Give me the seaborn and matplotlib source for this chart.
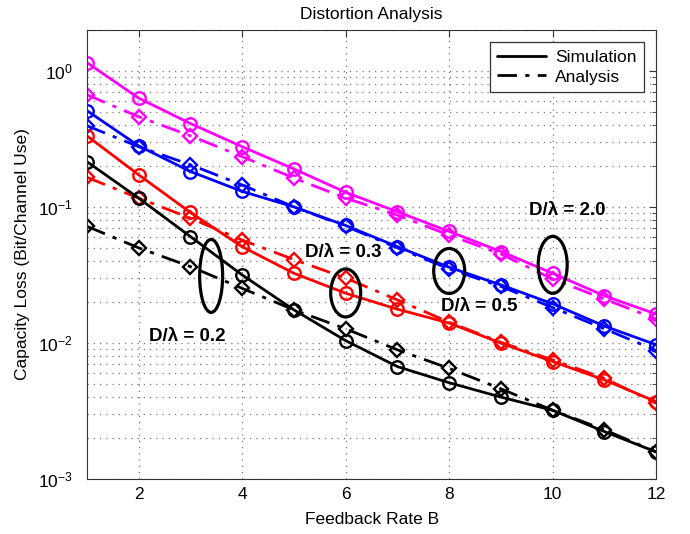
import numpy as np
import pandas as pd
import matplotlib
matplotlib.use('Agg')
import matplotlib.pyplot as plt
import seaborn as sns
from matplotlib.patches import Ellipse
from matplotlib.transforms import ScaledTranslation
from matplotlib.lines import Line2D
from matplotlib.ticker import LogLocator, NullFormatter

sns.set_style('white')
plt.rcParams.update({
    'font.family': ['Liberation Sans', 'DejaVu Sans'],
    'mathtext.default': 'regular',
    'xtick.direction': 'in',
    'ytick.direction': 'in',
    'xtick.top': True,
    'ytick.right': True,
    'axes.edgecolor': '#333333',
    'text.color': 'black',
    'axes.labelcolor': 'black',
    'xtick.color': 'black',
    'ytick.color': 'black',
})

# data
feedback_rate = [1, 2, 3, 4, 5, 6, 7, 8, 9, 10, 11, 12]
sim_20 = [1.15, 0.63, 0.41, 0.277, 0.19, 0.128, 0.092, 0.066, 0.047, 0.0325, 0.0222, 0.0163]
ana_20 = [0.667, 0.46, 0.333, 0.234, 0.163, 0.116, 0.087, 0.062, 0.045, 0.0295, 0.021, 0.015]
sim_05 = [0.51, 0.281, 0.182, 0.13, 0.1, 0.073, 0.051, 0.036, 0.0267, 0.0194, 0.0133, 0.0097]
ana_05 = [0.395, 0.277, 0.204, 0.145, 0.1, 0.072, 0.05, 0.035, 0.026, 0.0182, 0.0127, 0.0088]
sim_03 = [0.333, 0.172, 0.091, 0.051, 0.0325, 0.0232, 0.0177, 0.014, 0.00996, 0.0073, 0.00535, 0.0037]
ana_03 = [0.165, 0.116, 0.0826, 0.057, 0.041, 0.030, 0.0207, 0.0142, 0.0101, 0.0075, 0.0055, 0.0036]
sim_02 = [0.215, 0.116, 0.0605, 0.0316, 0.0175, 0.0104, 0.0067, 0.0051, 0.004, 0.0032, 0.00223, 0.00158]
ana_02 = [0.072, 0.05, 0.0364, 0.0252, 0.0175, 0.0127, 0.0089, 0.0065, 0.0046, 0.0032, 0.0023, 0.00158]

ratios = ['2.0', '0.5', '0.3', '0.2']
colors = {'2.0': '#FF00FF', '0.5': '#0000FF', '0.3': '#FF0000', '0.2': '#000000'}
series = {
    ('2.0', 'Simulation'): sim_20, ('2.0', 'Analysis'): ana_20,
    ('0.5', 'Simulation'): sim_05, ('0.5', 'Analysis'): ana_05,
    ('0.3', 'Simulation'): sim_03, ('0.3', 'Analysis'): ana_03,
    ('0.2', 'Simulation'): sim_02, ('0.2', 'Analysis'): ana_02,
}

rows = []
for (r, kind), vals in series.items():
    for b, v in zip(feedback_rate, vals):
        rows.append({'ratio': r, 'kind': kind, 'B': b, 'loss': v})
df = pd.DataFrame(rows)

fig = plt.figure(figsize=(6.9, 5.34), dpi=100)
ax = fig.add_axes([0.126, 0.103, 0.825, 0.841])

dashdot = (0, (7, 3, 1.5, 3))
for r in ratios:
    for kind in ['Analysis', 'Simulation']:
        sub = df[(df['ratio'] == r) & (df['kind'] == kind)]
        if kind == 'Simulation':
            ls, mk, ms = '-', 'o', 9
        else:
            ls, mk, ms = dashdot, 'D', 7
        sns.lineplot(data=sub, x='B', y='loss', ax=ax, color=colors[r],
                     linestyle=ls, linewidth=2.0, marker=mk, markersize=ms,
                     markerfacecolor='none', markeredgecolor=colors[r],
                     markeredgewidth=1.7, legend=False)

ax.set_yscale('log')
ax.set_xlim(1, 12)
ax.set_ylim(1e-3, 2)
ax.set_xticks([2, 4, 6, 8, 10, 12])
ax.yaxis.set_major_locator(LogLocator(base=10, numticks=10))
ax.yaxis.set_minor_locator(LogLocator(base=10, subs=np.arange(2, 10), numticks=50))
ax.yaxis.set_minor_formatter(NullFormatter())
grid_ls = (0, (1, 4))
ax.grid(True, which='major', axis='x', linestyle=grid_ls, color='#777777', linewidth=0.9)
ax.grid(True, which='both', axis='y', linestyle=grid_ls, color='#777777', linewidth=0.9)
ax.tick_params(axis='both', which='major', labelsize=12.5, length=5, color='#333333')
ax.tick_params(axis='x', which='major', pad=6)
ax.tick_params(axis='y', which='major', pad=10)
ax.tick_params(axis='y', which='minor', length=3, color='#333333')

ax.set_xlabel('Feedback Rate B', fontsize=12.5, labelpad=7)
ax.set_ylabel('Capacity Loss (Bit/Channel Use)', fontsize=12.5, labelpad=6)
ax.set_title('Distortion Analysis', fontsize=12.5, pad=8)

# ellipses around groups of curves (center in data, size in inches)
ellipses = [(3.4, 0.0311, 0.23, 0.73), (6.0, 0.0233, 0.30, 0.48),
            (8.0, 0.0338, 0.31, 0.45), (10.0, 0.0375, 0.29, 0.57)]
for xc, yc, w, h in ellipses:
    tr = fig.dpi_scale_trans + ScaledTranslation(xc, yc, ax.transData)
    ax.add_patch(Ellipse((0, 0), w, h, transform=tr, fill=False,
                         edgecolor='black', linewidth=2.3, zorder=5))

labels = [(2.93, 0.0112, 'D/λ = 0.2'), (5.95, 0.0459, 'D/λ = 0.3'),
          (8.58, 0.0184, 'D/λ = 0.5'), (10.28, 0.0936, 'D/λ = 2.0')]
for xt, yt, s in labels:
    ax.text(xt, yt, s, fontsize=13.5, fontweight='bold', ha='center', va='center', zorder=6)

handles = [Line2D([], [], color='black', linestyle='-', linewidth=2.0),
           Line2D([], [], color='black', linestyle=dashdot, linewidth=2.0)]
leg = ax.legend(handles, ['Simulation', 'Analysis'], loc='upper right', fontsize=12.5,
                frameon=True, fancybox=False, edgecolor='#333333', framealpha=1,
                handlelength=2.8, borderaxespad=0.7, labelspacing=0.25,
                borderpad=0.45, handletextpad=0.5)
leg.get_frame().set_linewidth(0.9)

fig.savefig('out.png', dpi=100)
